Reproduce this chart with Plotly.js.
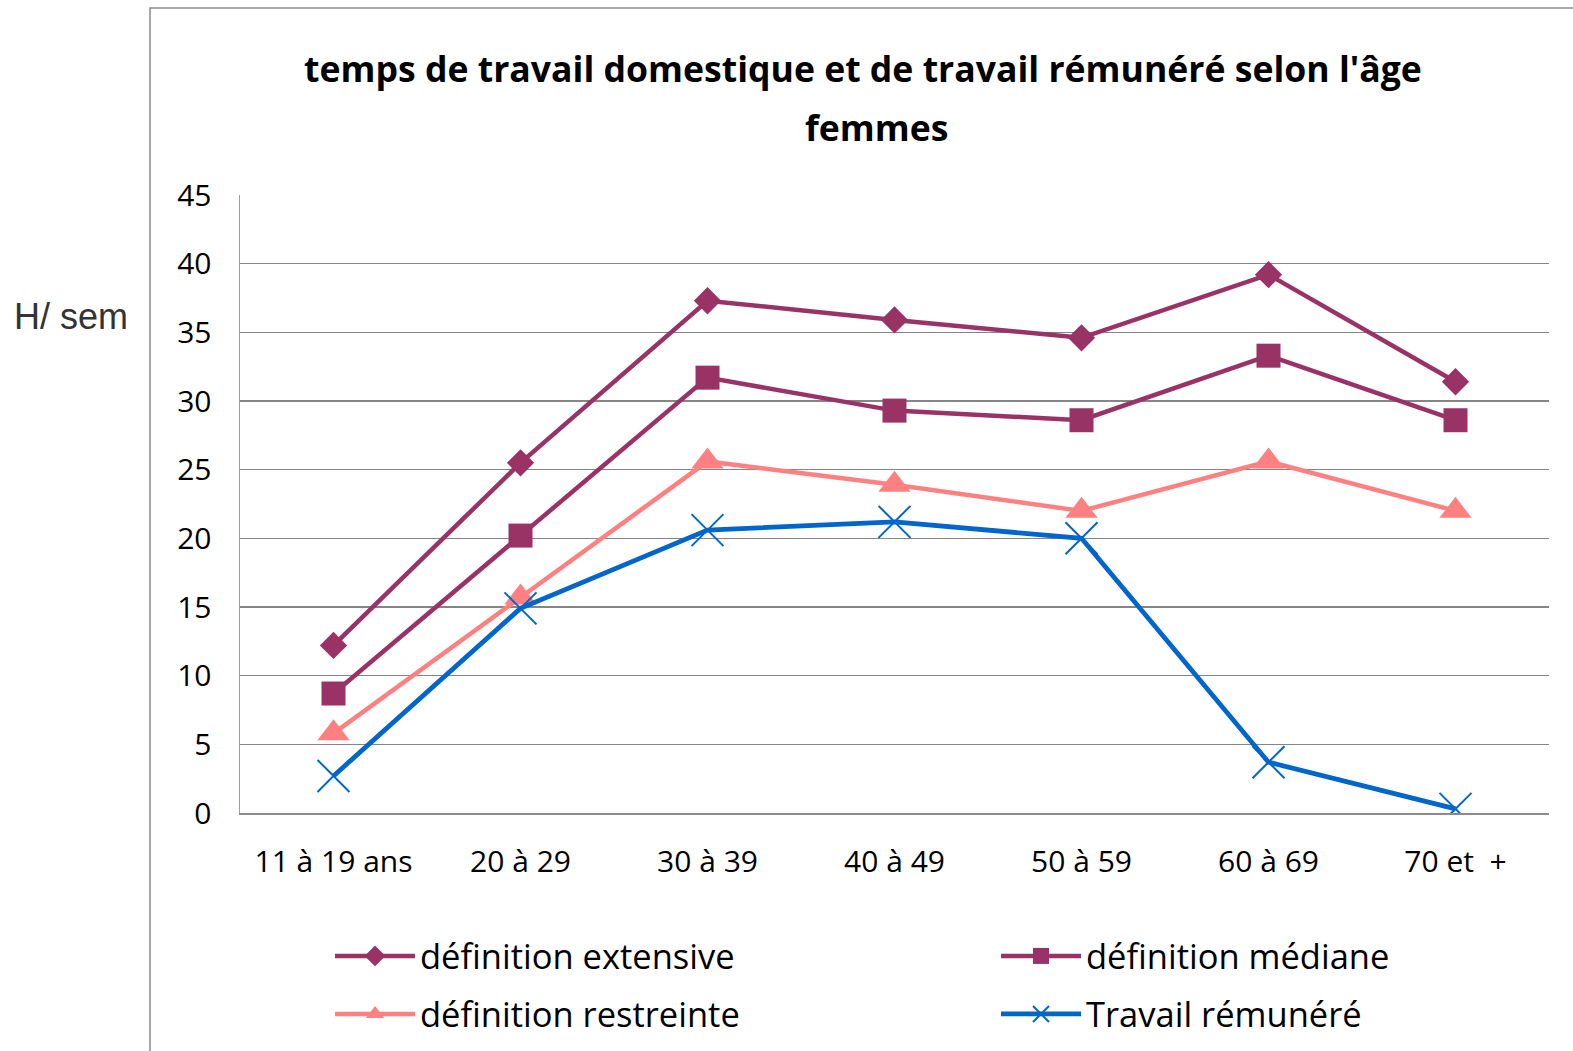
<!DOCTYPE html>
<html>
<head>
<meta charset="utf-8">
<script src="https://cdn.plot.ly/plotly-3.0.1.min.js"></script>
<style>html,body{margin:0;padding:0;background:#fff;}#chart{width:1573px;height:1051px;}</style>
</head>
<body>
<div id="chart"></div>
<script>
const categories = ["11 à 19 ans", "20 à 29", "30 à 39", "40 à 49", "50 à 59", "60 à 69", "70 et  +"];
const extensive = [12.2, 25.5, 37.3, 35.9, 34.6, 39.2, 31.4];
const mediane = [8.7, 20.2, 31.7, 29.3, 28.6, 33.3, 28.6];
const restreinte = [5.8, 15.7, 25.6, 23.9, 22.0, 25.6, 22.0];
const remunere = [2.7, 14.9, 20.6, 21.2, 20.0, 3.7, 0.3];
const yTicks = [0, 5, 10, 15, 20, 25, 30, 35, 40, 45];

const FONT = "'Open Sans', Lato, sans-serif";
const plum = "#993366";

const traces = [
  {x: categories, y: extensive, name: "définition extensive", type: "scatter", mode: "lines+markers", legend: "legend",
   line: {color: plum, width: 4.5}, marker: {symbol: "diamond", size: 21, color: plum}},
  {x: categories, y: mediane, name: "définition médiane", type: "scatter", mode: "lines+markers", legend: "legend2",
   line: {color: plum, width: 4.5}, marker: {symbol: "square", size: 24, color: plum}},
  {x: categories, y: restreinte, name: "définition restreinte", type: "scatter", mode: "lines+markers", legend: "legend3",
   line: {color: "#FF8080", width: 4.5}, marker: {symbol: "triangle-up", size: 28, color: "#FF8080"}},
  {x: categories, y: remunere, name: "Travail rémunéré", type: "scatter", mode: "lines+markers", legend: "legend4",
   line: {color: "#0066CC", width: 4.8}, marker: {symbol: "x-thin", size: 32, color: "#0066CC", line: {color: "#0066CC", width: 2}}}
];

function leg(xpx, ypx) {
  return {orientation: "h", xref: "container", yref: "container", xanchor: "left", yanchor: "top",
    x: xpx / 1573, y: 1 - ypx / 1051,
    font: {family: FONT, size: 34.5, color: "#000"}, itemwidth: 80, bgcolor: "rgba(0,0,0,0)"};
}

const layout = {
  width: 1573, height: 1051,
  margin: {l: 240, r: 24, t: 195, b: 238},
  paper_bgcolor: "#fff", plot_bgcolor: "#fff",
  font: {family: FONT, color: "#000", size: 30},
  title: {text: "<b>temps de travail domestique et de travail rémunéré selon l'âge</b>",
          font: {family: FONT, size: 35.6, color: "#000"},
          x: 863/1573, xanchor: "center", xref: "container", y: 1 - 70/1051, yanchor: "middle", yref: "container"},
  annotations: [
    {text: "<b>femmes</b>", xref: "paper", yref: "paper", x: (876-240)/1309, y: (813-127)/618, xanchor: "center", yanchor: "middle",
     showarrow: false, font: {family: FONT, size: 35.6, color: "#000"}},
    {text: "H/ sem", xref: "paper", yref: "paper", x: (71-240)/1309, y: (813-316)/618, xanchor: "center", yanchor: "middle",
     showarrow: false, font: {family: "'Liberation Sans', Arial, sans-serif", size: 36, color: "#333"}}
  ],
  shapes: [
    {type: "rect", xref: "paper", yref: "paper", x0: (150-240)/1309, x1: 1.1, y0: -1, y1: (813-8)/618,
     line: {color: "#8c8c8c", width: 1.5}, fillcolor: "rgba(0,0,0,0)", layer: "below"}
  ],
  xaxis: {type: "category", range: [-0.5, categories.length - 0.5], showgrid: false, showline: true, linecolor: "#8c8c8c", linewidth: 1.5,
          ticks: "", tickfont: {family: FONT, size: 30}, ticklabelstandoff: 21, zeroline: false},
  yaxis: {range: [0, 45], tickvals: yTicks, showgrid: true, gridcolor: "#858585", gridwidth: 1.2,
          showline: true, linecolor: "#a0a0a0", linewidth: 1.5, ticks: "", zeroline: false,
          tickfont: {family: FONT, size: 30}, ticklabelstandoff: 21},
  legend: leg(330, 927),
  legend2: leg(996, 927),
  legend3: leg(330, 985),
  legend4: leg(996, 985),
  showlegend: true
};

Plotly.newPlot("chart", traces, layout, {displayModeBar: false, staticPlot: true});
</script>
</body>
</html>
